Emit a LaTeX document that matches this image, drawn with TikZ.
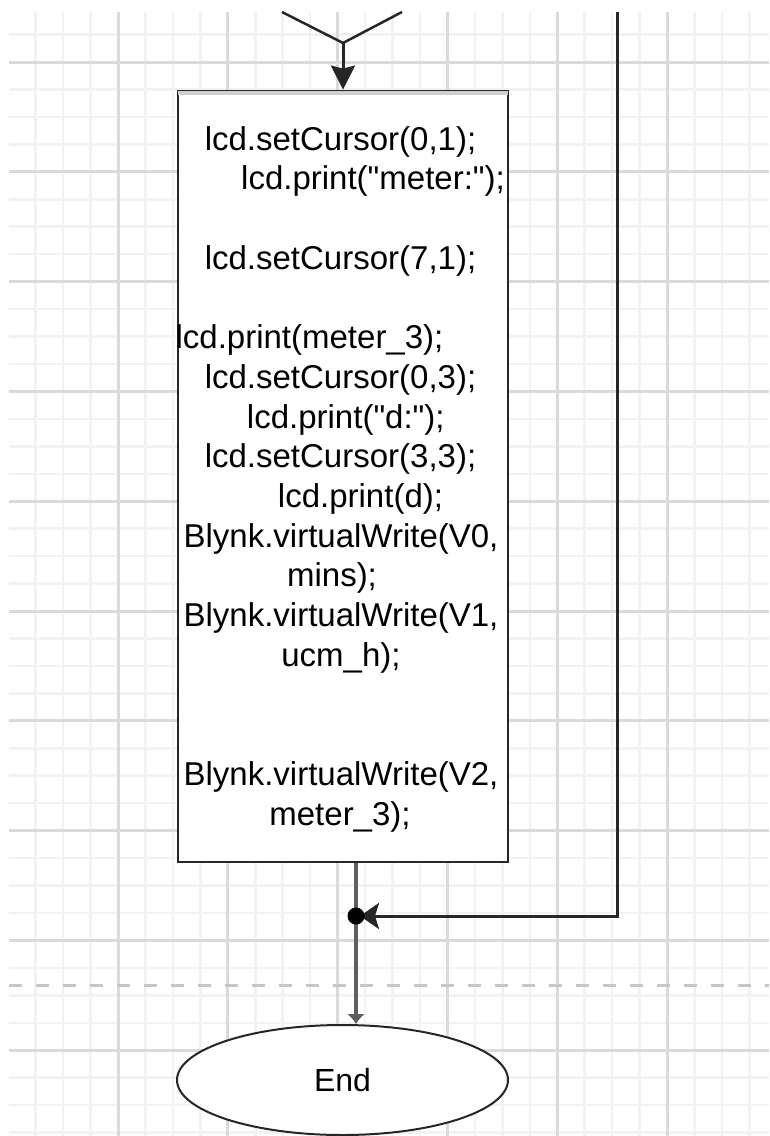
\documentclass[tikz,border=0pt]{standalone}
\usepackage{fontspec}
\setmainfont{Liberation Sans}
% plain family without TeX ligatures, so " stays a straight quote
\newfontfamily\codefamily{Liberation Sans}
\usetikzlibrary{arrows.meta,shapes.geometric}
\definecolor{gridmajor}{HTML}{DADADA}
\definecolor{gridminor}{HTML}{F2F2F2}
\definecolor{inkdark}{HTML}{262626}
\definecolor{flowgray}{HTML}{5E5E5E}
\definecolor{dashgray}{HTML}{C6C6C6}
% one line of code, moved sideways by half of #1
\newcommand{\codeline}[2]{\makebox[0pt]{\hspace*{#1pt}#2}}

\begin{document}
\begin{tikzpicture}[x=1pt,y=-1pt,
  minorline/.style={gridminor,line width=2.5pt},
  majorline/.style={gridmajor,line width=3pt},
  process/.style={draw=inkdark,line width=2.8pt,fill=white,
    minimum width=330pt,minimum height=771pt,inner sep=0pt},
  terminal/.style={ellipse,draw=inkdark,line width=2pt,fill=white,
    minimum width=331pt,minimum height=110pt,inner sep=0pt,
    font=\codefamily\fontsize{32}{38}\selectfont},
  codefont/.style={font=\codefamily\fontsize{33}{39.7}\selectfont,align=center,inner sep=0pt},
  flow/.style={inkdark,line width=2.5pt},
  connector/.style={flowgray,line width=4pt}
]
\useasboundingbox (0,0) rectangle (769,1136);
\fill[white] (0,0) rectangle (769,1136);

% background grid
\begin{scope}
  \clip (9,12) rectangle (769,1136);
  \foreach \i in {0,...,27}
    \draw[minorline] ({8.2+27.45*\i},12) -- ({8.2+27.45*\i},1136);
  \foreach \k in {0,...,40}
    \draw[minorline] (9,{34.55+27.45*\k}) -- (769,{34.55+27.45*\k});
  \foreach \i in {0,...,5}
    \draw[majorline] ({118+109.8*\i},12) -- ({118+109.8*\i},1136);
  \foreach \k in {0,...,9}
    \draw[majorline] (9,{62+109.8*\k}) -- (769,{62+109.8*\k});
\end{scope}

% page break marker
\draw[dashgray,line width=3pt,dash pattern=on 13pt off 14pt] (9,985) -- (769,985);

% free ends of the incoming connectors
\coordinate (inL) at (282,12);
\coordinate (inR) at (402,12);
\coordinate (merge) at (343,43);
\coordinate (rtop) at (617,12);
\coordinate (j) at (356,916);

% process block
\node[process] (code) at (343,476.5) {};
\fill[black!19] ([xshift=1.4pt,yshift=-1.4pt]code.north west)
  rectangle ([xshift=-1.4pt,yshift=-5pt]code.north east);
\node[codefont] (codetext) at ([yshift=-2.5pt]code.center) {%
\codeline{-5}{lcd.setCursor(0,1);}\\
\codeline{60}{lcd.print("meter:");}\\[39.7pt]
\codeline{-5}{lcd.setCursor(7,1);}\\[39.7pt]
\codeline{-67}{lcd.print(meter\_3);}\\
\codeline{-5}{lcd.setCursor(0,3);}\\
\codeline{5.6}{lcd.print("d:");}\\
\codeline{-5}{lcd.setCursor(3,3);}\\
\codeline{35}{lcd.print(d);}\\
\codeline{-4}{Blynk.virtualWrite(V0,}\\
\codeline{-22}{mins);}\\
\codeline{-4}{Blynk.virtualWrite(V1,}\\
\codeline{-4}{ucm\_h);}\\[79.4pt]
\codeline{-4}{Blynk.virtualWrite(V2,}\\
\codeline{-6}{meter\_3);}};

% end terminal
\node[terminal] (finish) at (342.5,1080) {End};

% connectors
\draw[flow] (inL) -- (merge);
\draw[flow] (inR) -- (merge);
\draw[flow,line width=3pt,-{Stealth[length=24pt,width=24pt,inset=3pt]}] (merge) -- (code.north);
\draw[flow,line width=3pt,shorten >=4pt,-{Stealth[length=19pt,width=26pt,inset=4pt]}] (rtop) |- (j);
\draw[connector] (j |- code.south) -- (j);
\draw[connector,-{Latex[length=10pt,width=18pt]}] (j) -- (j |- finish.north);
\fill[black] (j) circle (8.5pt);
\end{tikzpicture}
\end{document}
